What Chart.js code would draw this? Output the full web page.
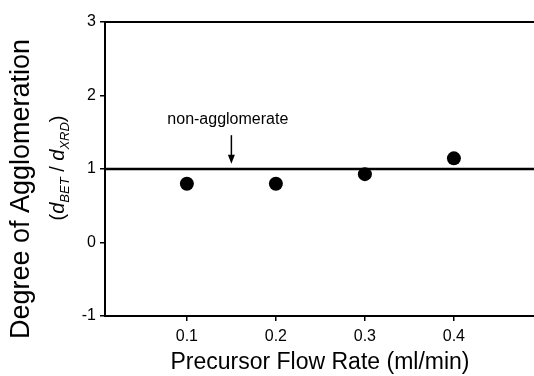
<!DOCTYPE html>
<html>
<head>
<meta charset="utf-8">
<script src="https://cdn.jsdelivr.net/npm/chart.js@4"></script>
<style>
html,body{margin:0;padding:0;background:#fff;}
#wrap{width:534px;height:376px;position:relative;}
</style>
</head>
<body>
<div id="wrap"><canvas id="c" width="534" height="376"></canvas></div>
<script>
// ---- data ----
const flowRates = [0.1, 0.2, 0.3, 0.4];
const agglomeration = [0.80, 0.80, 0.93, 1.145];
const xTickValues = [0.1, 0.2, 0.3, 0.4];
const yTickValues = [-1, 0, 1, 2, 3];
const xRange = [0.008, 0.49];
const yRange = [-1, 3];
const referenceLevel = 1;
const annotationText = 'non-agglomerate';
const annotationX = 0.15;
const xTitle = 'Precursor Flow Rate (ml/min)';
const yTitle = 'Degree of Agglomeration';

const FONT = "'Liberation Sans', Arial, sans-serif";

const points = flowRates.map((x, i) => ({x: x, y: agglomeration[i]}));
const refLine = [{x: xRange[0], y: referenceLevel}, {x: xRange[1], y: referenceLevel}];

const decor = {
  id: 'decor',
  afterDraw(chart) {
    const ctx = chart.ctx;
    const a = chart.chartArea;
    const xs = chart.scales.x, ys = chart.scales.y;
    ctx.save();
    // top frame line
    ctx.strokeStyle = '#000';
    ctx.lineWidth = 2;
    ctx.beginPath();
    ctx.moveTo(a.left, a.top);
    ctx.lineTo(a.right, a.top);
    ctx.stroke();

    // annotation text + arrow
    const ax = xs.getPixelForValue(annotationX);
    ctx.fillStyle = '#000';
    ctx.font = '16px ' + FONT;
    ctx.textAlign = 'center';
    ctx.textBaseline = 'alphabetic';
    ctx.fillText(annotationText, xs.getPixelForValue(0.146), ys.getPixelForValue(1.61));
    const yTop = ys.getPixelForValue(1.46), yTip = ys.getPixelForValue(1.07);
    ctx.lineWidth = 1.5;
    ctx.beginPath();
    ctx.moveTo(ax, yTop);
    ctx.lineTo(ax, yTip - 6);
    ctx.stroke();
    ctx.beginPath();
    ctx.moveTo(ax - 3.5, yTip - 9);
    ctx.lineTo(ax + 3.5, yTip - 9);
    ctx.lineTo(ax, yTip);
    ctx.closePath();
    ctx.fill();

    // x title
    ctx.font = '23px ' + FONT;
    ctx.textAlign = 'center';
    ctx.textBaseline = 'alphabetic';
    ctx.fillText(xTitle, 320, 369);

    // y title (rotated)
    ctx.save();
    ctx.translate(22, 189);
    ctx.rotate(-Math.PI / 2);
    ctx.font = '27px ' + FONT;
    ctx.textAlign = 'center';
    ctx.textBaseline = 'middle';
    ctx.fillText(yTitle, 0, 0);
    ctx.restore();

    // y subtitle with subscripts
    ctx.save();
    ctx.translate(57, 168);
    ctx.rotate(-Math.PI / 2);
    const segs = [
      {t: '(', f: '20px ' + FONT, dy: 0},
      {t: 'd', f: 'italic 20px ' + FONT, dy: 0},
      {t: 'BET', f: 'italic 13px ' + FONT, dy: 5},
      {t: ' / ', f: '20px ' + FONT, dy: 0},
      {t: 'd', f: 'italic 20px ' + FONT, dy: 0},
      {t: 'XRD', f: 'italic 13px ' + FONT, dy: 5},
      {t: ')', f: '20px ' + FONT, dy: 0}
    ];
    let w = 0;
    segs.forEach(s => { ctx.font = s.f; s.w = ctx.measureText(s.t).width; w += s.w; });
    let cx = -w / 2;
    ctx.textAlign = 'left';
    ctx.textBaseline = 'alphabetic';
    segs.forEach(s => { ctx.font = s.f; ctx.fillText(s.t, cx, 7 + s.dy); cx += s.w; });
    ctx.restore();

    ctx.restore();
  }
};

new Chart(document.getElementById('c'), {
  type: 'scatter',
  data: {
    datasets: [
      {
        data: refLine,
        showLine: true,
        borderColor: '#000',
        borderWidth: 2.5,
        pointRadius: 0,
        fill: false
      },
      {
        data: points,
        pointRadius: 7,
        pointHoverRadius: 7,
        pointBackgroundColor: '#000',
        pointBorderColor: '#000',
        pointBorderWidth: 0,
        clip: false
      }
    ]
  },
  options: {
    responsive: false,
    animation: false,
    events: [],
    layout: {autoPadding: false, padding: {top: 22, right: 0, bottom: 0, left: 0}},
    plugins: {legend: {display: false}, tooltip: {enabled: false}},
    scales: {
      x: {
        type: 'linear',
        min: xRange[0],
        max: xRange[1],
        afterBuildTicks: s => { s.ticks = xTickValues.map(v => ({value: v})); },
        afterFit: s => { s.height = 60; },
        grid: {drawOnChartArea: false, drawTicks: true, tickLength: 5, color: '#000', lineWidth: 1.5},
        border: {display: true, color: '#000', width: 2},
        ticks: {
          color: '#000',
          font: {family: FONT, size: 16},
          padding: 6,
          maxRotation: 0,
          callback: v => v.toFixed(1)
        },
        title: {display: false}
      },
      y: {
        type: 'linear',
        min: yRange[0],
        max: yRange[1],
        afterBuildTicks: s => { s.ticks = yTickValues.map(v => ({value: v})); },
        afterFit: s => { s.width = 105; },
        grid: {drawOnChartArea: false, drawTicks: true, tickLength: 5, color: '#000', lineWidth: 1.5},
        border: {display: true, color: '#000', width: 2},
        ticks: {
          color: '#000',
          font: {family: FONT, size: 16},
          padding: 4,
          callback: v => String(v)
        },
        title: {display: false}
      }
    }
  },
  plugins: [decor]
});
</script>
</body>
</html>
